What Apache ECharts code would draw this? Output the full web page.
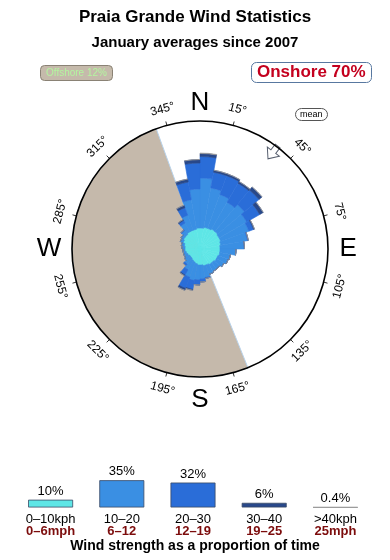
<!DOCTYPE html>
<html><head><meta charset="utf-8">
<script src="https://cdn.jsdelivr.net/npm/echarts@6/dist/echarts.min.js"></script>
<style>html,body{margin:0;padding:0;background:#fff}#c{width:390px;height:560px}</style>
</head><body><div id="c"></div>
<script>
// 10° direction bins (bin starts, compass degrees)
const directions = ['0','10','20','30','40','50','60','70','80','90','100','110','120','130','140','150','160','170',
  '180','190','200','210','220','230','240','250','260','270','280','290','300','310','320','330','340','350'];
// radial length of each speed band per direction (stacked)
const speed0_10  = [21,22,22,23,23,22,22,21,20,20,20,19,19,18,18,17,17,16,16,15,14,13,12,12,13,14,15,15,16,18,19,19,20,20,20,21];
const speed10_20 = [50,40,36,31,35,32,30,27,24,16,11,11,9,8,8,10,12,14,15,17,16,11,8,6,4,3,2,3,3,3,3,5,10,16,30,39];
const speed20_30 = [21.5,16,20,22,19,15,5,1,0.5,0,0,0,0,0,0,0,1,3,5,9,12,6,2,0,0,0,0,0,0,0,0,1,3,8,18,26];
const speed30_40 = [3,2,2,2,4,4,1,0,0,0,0,0,0,0,0,0,0,0,0,1,2,1,0,0,0,0,0,0,0,0,0,0,1,2.5,3,3.5];
const speed40up  = [0.5,0,0,0,0,0,0,0,0,0,0,0,0,0,0,0,0,0,0,0,0,0,0,0,0,0,0,0,0,0,0,0,0,0,0,0];
const tickAngles = [15,45,75,105,135,165,195,225,255,285,315,345];
const compassNames = ['N','E','S','W'];
const compassAngles = [0,90,180,270];
const offshoreSector = [158,340];
const meanDirection = 37;
const legendKph = ['0–10kph','10–20','20–30','30–40','>40kph'];
const legendMph = ['0–6mph','6–12','12–19','19–25','25mph'];
const legendShares = [10,35,32,6,0.4];

const bandColors = ['#5ee6e6','#3a8fe3','#2a6dd8','#28488a','#9a9a9a'];
const FONT = '"Liberation Sans", Arial, sans-serif';
const CX = 200, CY = 249, R = 128;
const letterRadius = {N:1.145, E:1.158, S:1.18, W:1.18};
const toAx = c => (((c - 15) % 360) + 360) % 360; // compass -> value on tick angle axis

const chart = echarts.init(document.getElementById('c'), null, {renderer:'canvas'});
const bandData = [speed0_10, speed10_20, speed20_30, speed30_40, speed40up];

const roseSeries = bandData.map((d, i) => ({
  type:'bar', coordinateSystem:'polar', polarIndex:0, stack:'wind',
  data:d, barCategoryGap:'0%', silent:true, z:3,
  itemStyle:{color:bandColors[i], borderColor:bandColors[i], borderWidth:0.6}
}));

function tangentRot(c){
  let cc = c;
  if (cc > 90 && cc <= 270) cc -= 180; else if (cc > 270) cc -= 360;
  return -cc * Math.PI / 180;
}

const option = {
  animation:false,
  title:[
    {text:'Praia Grande Wind Statistics', left:'center', top:9, padding:0,
     textStyle:{fontSize:17, fontWeight:'bold', fontFamily:FONT, color:'#000'}},
    {text:'January averages since 2007', left:'center', top:35, padding:0,
     textStyle:{fontSize:15, fontWeight:'bold', fontFamily:FONT, color:'#000'}},
    {text:'Wind strength as a proportion of time', left:'center', top:539, padding:0,
     textStyle:{fontSize:14, fontWeight:'bold', fontFamily:FONT, color:'#000'}},
    {text:'Offshore 12%', left:40, top:65, padding:[3,6], backgroundColor:'#c5baab',
     borderColor:'#8a8275', borderWidth:1, borderRadius:4,
     textStyle:{fontSize:10, fontWeight:'normal', fontFamily:FONT, color:'#b4f5a0'}},
    {text:'Onshore 70%', left:251, top:62, padding:[2,6], backgroundColor:'#fff',
     borderColor:'#5878a0', borderWidth:1, borderRadius:5,
     textStyle:{fontSize:17, fontWeight:'bold', fontFamily:FONT, color:'#c4001e'}},
    {text:'mean', left:295, top:108, padding:[2,5], backgroundColor:'#fff',
     borderColor:'#555', borderWidth:1, borderRadius:6,
     textStyle:{fontSize:9, fontWeight:'normal', fontFamily:FONT, color:'#000'}}
  ],
  polar:[
    {center:[CX,CY], radius:R},
    {center:[CX,CY], radius:R}
  ],
  angleAxis:[
    {polarIndex:0, type:'category', data:directions, startAngle:90, clockwise:true, boundaryGap:true,
     axisLine:{show:false}, axisTick:{show:false}, axisLabel:{show:false}, splitLine:{show:false}},
    {polarIndex:1, type:'value', min:0, max:360, interval:30, startAngle:75, clockwise:true, z:10,
     axisLine:{show:true, lineStyle:{color:'#000', width:1.6}},
     axisTick:{show:true, length:4, lineStyle:{color:'#000', width:0.8}},
     axisLabel:{show:false}, splitLine:{show:false}}
  ],
  radiusAxis:[
    {polarIndex:0, type:'value', min:0, max:R, show:false,
     axisLine:{show:false}, axisTick:{show:false}, axisLabel:{show:false}, splitLine:{show:false}},
    {polarIndex:1, type:'value', min:0, max:1, show:false,
     axisLine:{show:false}, axisTick:{show:false}, axisLabel:{show:false}, splitLine:{show:false}}
  ],
  grid:{left:15, right:19, top:460.7, height:46.8, containLabel:false},
  xAxis:{type:'category', data:legendKph, axisLine:{show:false}, axisTick:{show:false},
    axisLabel:{interval:0, margin:6,
      formatter:(v, i) => `{k|${legendKph[i]}}\n{m|${legendMph[i]}}`,
      rich:{k:{fontSize:13, color:'#000', fontFamily:FONT, lineHeight:12},
            m:{fontSize:13, color:'#7c0c0c', fontWeight:'bold', fontFamily:FONT, lineHeight:12}}}},
  yAxis:{type:'value', min:0, max:60, show:false, splitLine:{show:false}},
  series:[
    {type:'pie', center:[CX,CY], radius:R, startAngle:(((90 - offshoreSector[0]) % 360) + 360) % 360,
     clockwise:true, silent:true, z:1, label:{show:false}, labelLine:{show:false},
     emphasis:{disabled:true},
     data:[
       {value:offshoreSector[1]-offshoreSector[0], itemStyle:{color:'#c5b9ab', borderColor:'#b8d2ea', borderWidth:1}},
       {value:360-(offshoreSector[1]-offshoreSector[0]), itemStyle:{color:'rgba(0,0,0,0)'}}
     ]},
    ...roseSeries,
    {type:'custom', coordinateSystem:'polar', polarIndex:1, silent:true, z:6,
     data:tickAngles.map(c => [1.13, toAx(c), c]),
     renderItem:(params, api) => {
       const p = api.coord([api.value(0), api.value(1)]);
       const c = api.value(2);
       return {type:'text', x:p[0], y:p[1], rotation:tangentRot(c),
         style:{text:c+'°', fill:'#000', fontSize:12, fontFamily:FONT, align:'center', verticalAlign:'middle'}};
     }},
    {type:'custom', coordinateSystem:'polar', polarIndex:1, silent:true, z:6,
     data:compassAngles.map((c, i) => [letterRadius[compassNames[i]], toAx(c), i]),
     renderItem:(params, api) => {
       const p = api.coord([api.value(0), api.value(1)]);
       return {type:'text', x:p[0], y:p[1],
         style:{text:compassNames[api.value(2)], fill:'#000', fontSize:26, fontFamily:FONT, align:'center', verticalAlign:'middle'}};
     }},
    {type:'scatter', coordinateSystem:'polar', polarIndex:1, silent:true, z:7,
     data:[[0.945, toAx(meanDirection)]],
     symbol:'path://M10,0 L20,10 L14,10 L14,18 L6,18 L6,10 L0,10 Z', symbolSize:[15,16],
     symbolRotate:360 - ((meanDirection + 180) % 360),
     itemStyle:{color:'#fff', borderColor:'#2a3448', borderWidth:1}},
    {type:'bar', xAxisIndex:0, yAxisIndex:0, barWidth:45, silent:true,
     data:legendShares.map((v, i) => ({value:v, itemStyle:{color:bandColors[i],
       borderColor: i === 4 ? '#9a9a9a' : '#3a4a66', borderWidth: i === 4 ? 1 : 0.8}})),
     label:{show:true, position:'top', distance:2, formatter:p => p.value + '%',
       fontSize:13, color:'#000', fontFamily:FONT}}
  ]
};
chart.setOption(option);
</script></body></html>
